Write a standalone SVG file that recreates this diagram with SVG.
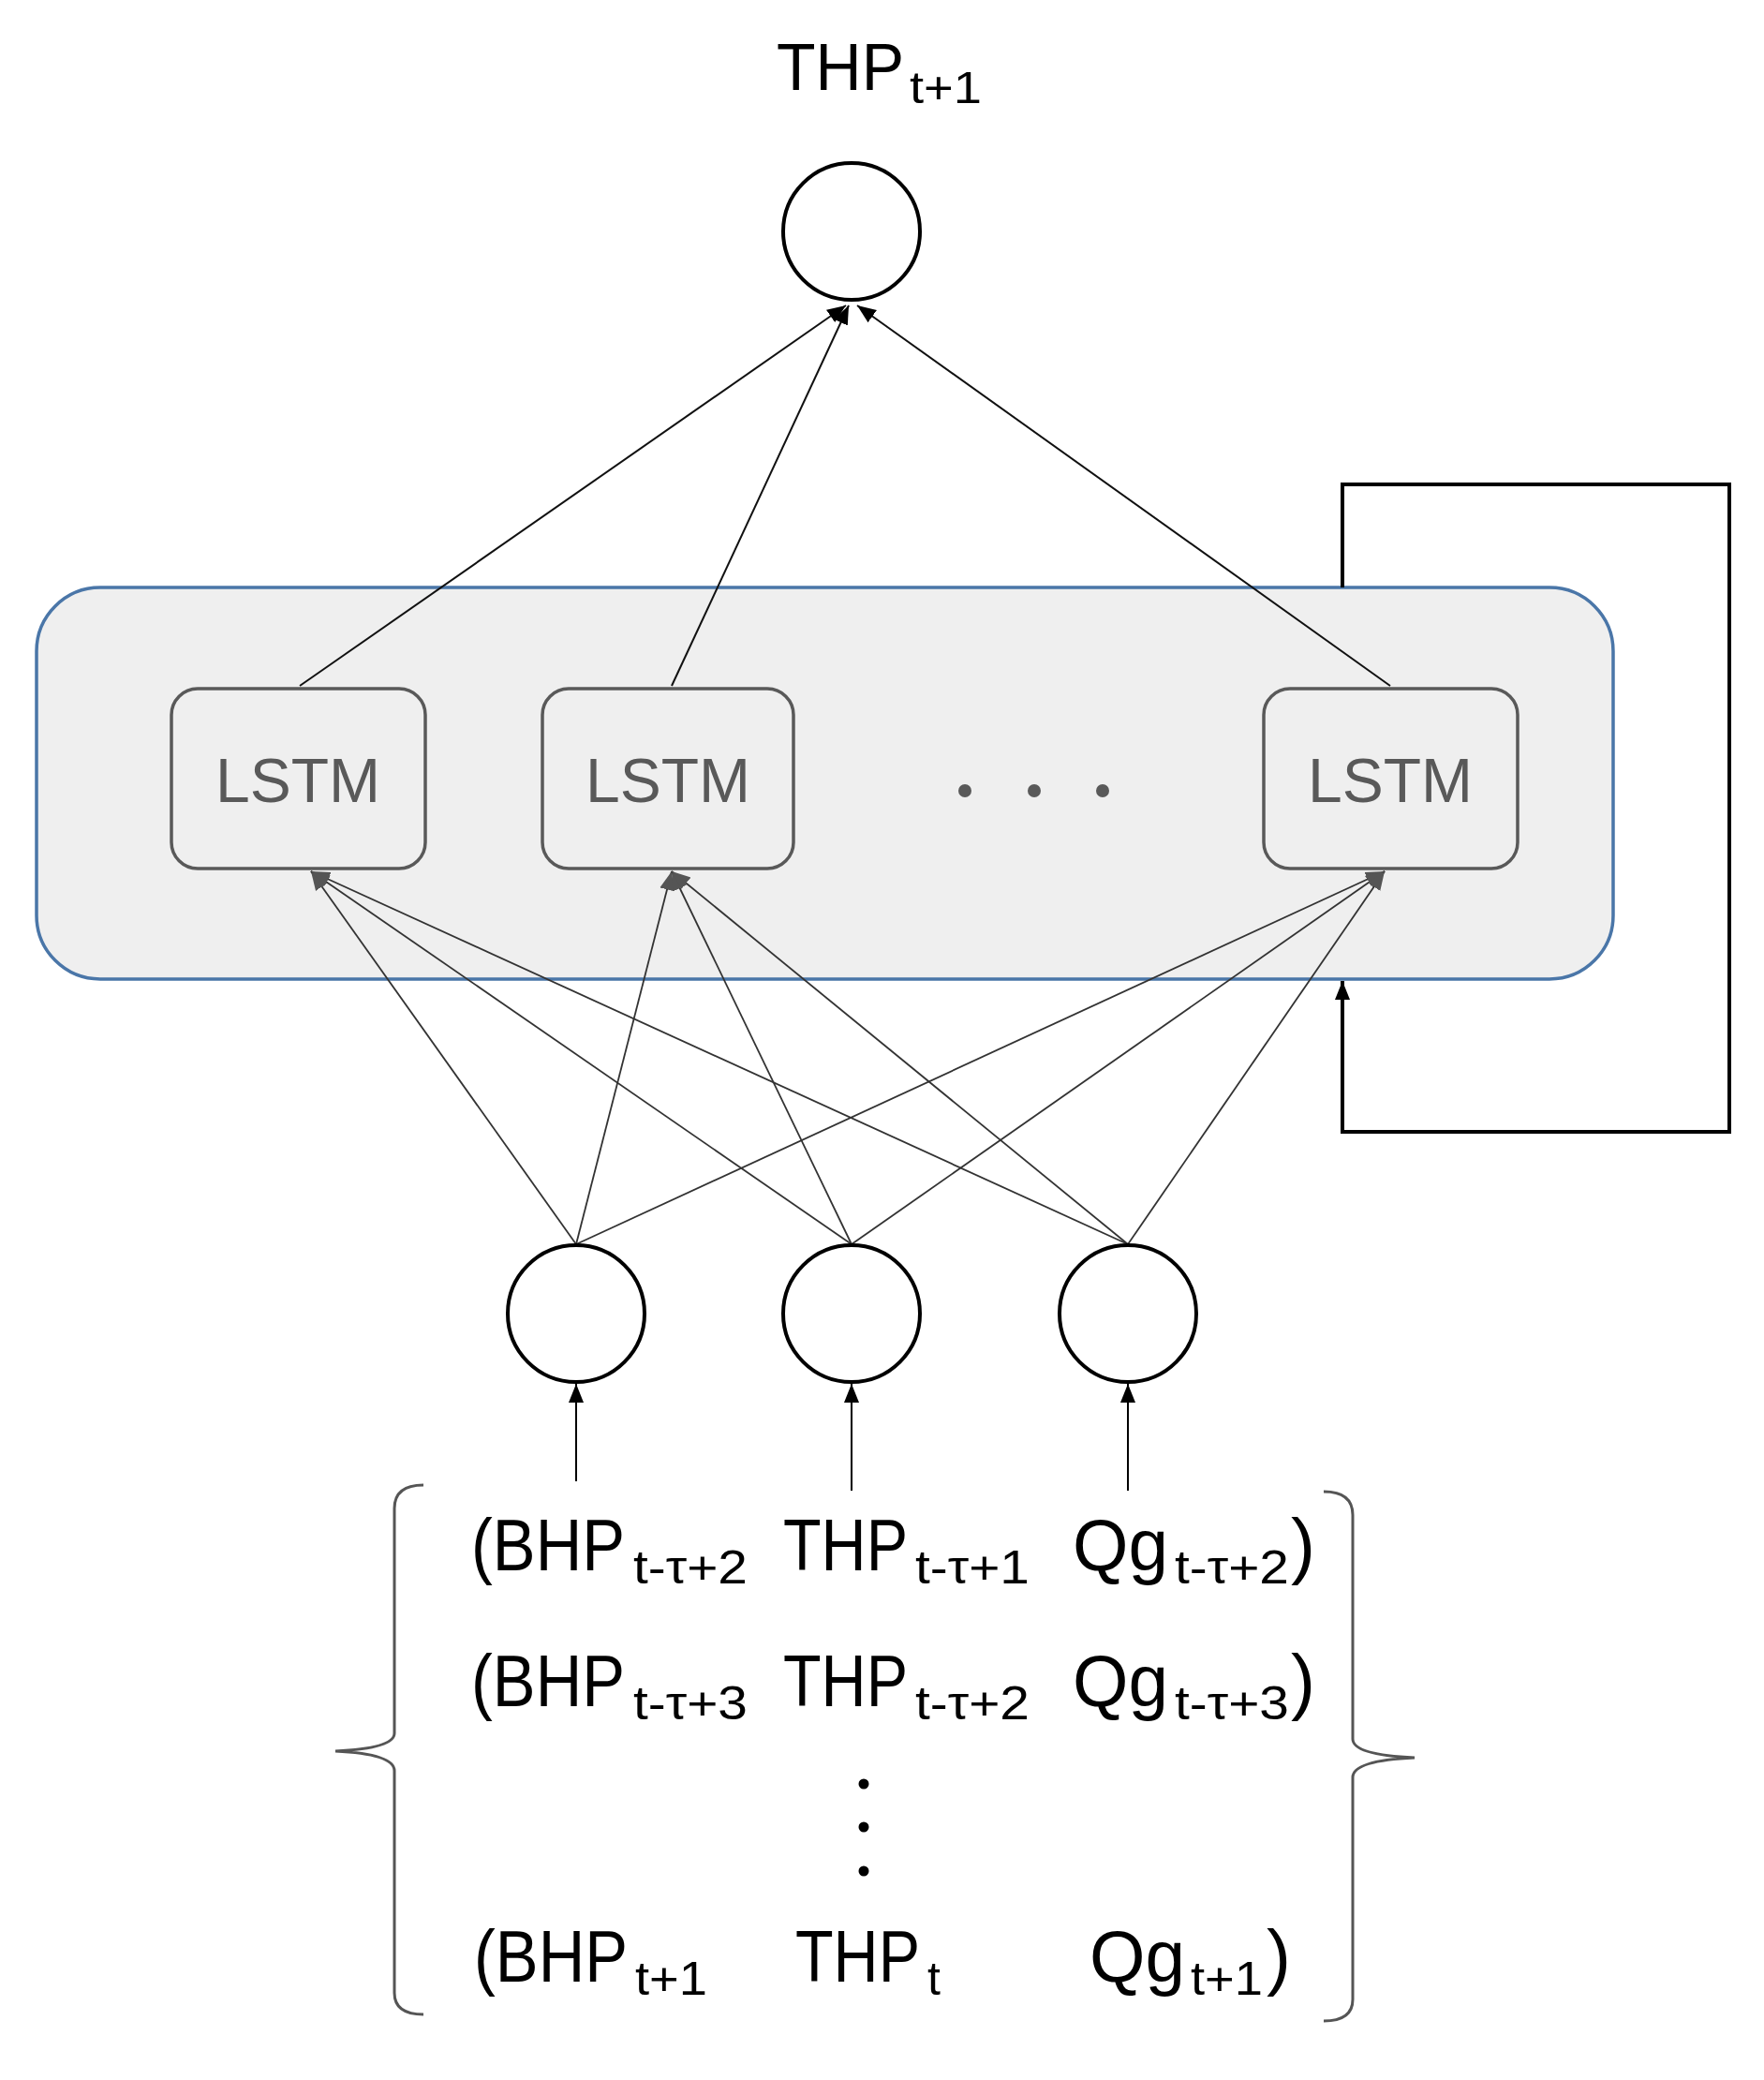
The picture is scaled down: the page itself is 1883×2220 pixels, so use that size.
<svg xmlns="http://www.w3.org/2000/svg" width="1883" height="2220" viewBox="0 0 1883 2220">
<defs>
<marker id="ahg" viewBox="0 0 10 10" refX="10" refY="5" markerWidth="20" markerHeight="20" markerUnits="userSpaceOnUse" orient="auto"><path d="M0,1 L10,5 L0,9 z" fill="#555"/></marker>
<marker id="ahb" viewBox="0 0 10 10" refX="10" refY="5" markerWidth="20" markerHeight="20" markerUnits="userSpaceOnUse" orient="auto"><path d="M0,1 L10,5 L0,9 z" fill="#000"/></marker>
</defs>
<style>
.t{font-family:"Liberation Sans",Arial,sans-serif;fill:#000}
.m{font-size:78px}
.s{font-size:50px}
.node{fill:#fff;stroke:#000;stroke-width:4}
.lstm{fill:#efefef;stroke:#595959;stroke-width:3.5}
.lt{font-family:"Liberation Sans",Arial,sans-serif;font-size:66px;fill:#595959}
.e{stroke:#333;stroke-width:1.8;fill:none;marker-end:url(#ahg)}
.eb{stroke:#111;stroke-width:2;fill:none;marker-end:url(#ahb)}
.br{fill:none;stroke:#555;stroke-width:3}
</style>
<rect width="1883" height="2220" fill="#fff"/>
<g id="layer"><rect x="39" y="627" width="1683" height="418" rx="68" fill="#efefef" stroke="#4a76a8" stroke-width="3.5"/></g>
<g id="connectors">
<line class="eb" x1="320" y1="732" x2="903" y2="326"/>
<line class="eb" x1="717" y1="732" x2="906" y2="326"/>
<line class="eb" x1="1484" y1="732" x2="915" y2="326"/>
<g>
<line class="e" x1="615" y1="1328" x2="332" y2="930"/>
<line class="e" x1="615" y1="1328" x2="717" y2="930"/>
<line class="e" x1="615" y1="1328" x2="1478" y2="930"/>
<line class="e" x1="909" y1="1328" x2="332" y2="930"/>
<line class="e" x1="909" y1="1328" x2="717" y2="930"/>
<line class="e" x1="909" y1="1328" x2="1478" y2="930"/>
<line class="e" x1="1204" y1="1328" x2="332" y2="930"/>
<line class="e" x1="1204" y1="1328" x2="717" y2="930"/>
<line class="e" x1="1204" y1="1328" x2="1478" y2="930"/>
</g>
<line x1="615" y1="1581" x2="615" y2="1477" stroke="#000" stroke-width="2" marker-end="url(#ahb)"/>
<line x1="909" y1="1591" x2="909" y2="1477" stroke="#000" stroke-width="2" marker-end="url(#ahb)"/>
<line x1="1204" y1="1591" x2="1204" y2="1477" stroke="#000" stroke-width="2" marker-end="url(#ahb)"/>
<path d="M1433,627 V517 H1846 V1208 H1433 V1047" fill="none" stroke="#000" stroke-width="4" marker-end="url(#ahb)"/>
</g>
<g id="out"><circle class="node" cx="909" cy="247" r="73"/>
<text class="t" x="829" y="96" font-size="70" textLength="136" lengthAdjust="spacingAndGlyphs">THP</text>
<text class="t" x="971" y="110" font-size="48" textLength="77" lengthAdjust="spacingAndGlyphs">t+1</text></g>
<g id="lstm1"><rect class="lstm" x="183" y="735" width="271" height="192" rx="28"/><text class="lt" x="318" y="856" text-anchor="middle">LSTM</text></g>
<g id="lstm2"><rect class="lstm" x="579" y="735" width="268" height="192" rx="28"/><text class="lt" x="713" y="856" text-anchor="middle">LSTM</text></g>
<g id="lstm3"><rect class="lstm" x="1349" y="735" width="271" height="192" rx="28"/><text class="lt" x="1484" y="856" text-anchor="middle">LSTM</text></g>
<g id="dots" fill="#595959"><circle cx="1030" cy="844" r="7"/><circle cx="1104" cy="844" r="7"/><circle cx="1177" cy="844" r="7"/></g>
<g id="in1"><circle class="node" cx="615" cy="1402" r="73"/></g>
<g id="in2"><circle class="node" cx="909" cy="1402" r="73"/></g>
<g id="in3"><circle class="node" cx="1204" cy="1402" r="73"/></g>
<g id="matrix">
<path class="br" d="M452,1585 Q421,1585 421,1610 V1850 Q421,1866 358,1869 Q421,1872 421,1890 V2127 Q421,2150 452,2150"/>
<path class="br" d="M1413,1592 Q1444,1592 1444,1617 V1856 Q1444,1873 1510,1876 Q1444,1879 1444,1897 V2134 Q1444,2157 1413,2157"/>
<g class="t">
<text class="m" x="503" y="1676" textLength="164" lengthAdjust="spacingAndGlyphs">(BHP</text>
<text class="s" x="676" y="1690" textLength="122" lengthAdjust="spacingAndGlyphs">t-τ+2</text>
<text class="m" x="836" y="1676" textLength="133" lengthAdjust="spacingAndGlyphs">THP</text>
<text class="s" x="977" y="1690" textLength="122" lengthAdjust="spacingAndGlyphs">t-τ+1</text>
<text class="m" x="1145" y="1676" textLength="102" lengthAdjust="spacingAndGlyphs">Qg</text>
<text class="s" x="1254" y="1690" textLength="122" lengthAdjust="spacingAndGlyphs">t-τ+2</text>
<text class="m" x="1378" y="1676">)</text>
<text class="m" x="503" y="1821" textLength="164" lengthAdjust="spacingAndGlyphs">(BHP</text>
<text class="s" x="676" y="1835" textLength="122" lengthAdjust="spacingAndGlyphs">t-τ+3</text>
<text class="m" x="836" y="1821" textLength="133" lengthAdjust="spacingAndGlyphs">THP</text>
<text class="s" x="977" y="1835" textLength="122" lengthAdjust="spacingAndGlyphs">t-τ+2</text>
<text class="m" x="1145" y="1821" textLength="102" lengthAdjust="spacingAndGlyphs">Qg</text>
<text class="s" x="1254" y="1835" textLength="122" lengthAdjust="spacingAndGlyphs">t-τ+3</text>
<text class="m" x="1378" y="1821">)</text>
<text class="m" x="506" y="2115" textLength="164" lengthAdjust="spacingAndGlyphs">(BHP</text>
<text class="s" x="678" y="2129" textLength="77" lengthAdjust="spacingAndGlyphs">t+1</text>
<text class="m" x="849" y="2115" textLength="133" lengthAdjust="spacingAndGlyphs">THP</text>
<text class="s" x="990" y="2129">t</text>
<text class="m" x="1163" y="2115" textLength="102" lengthAdjust="spacingAndGlyphs">Qg</text>
<text class="s" x="1271" y="2129" textLength="77" lengthAdjust="spacingAndGlyphs">t+1</text>
<text class="m" x="1352" y="2115">)</text>
</g>
<g fill="#000"><circle cx="922" cy="1904" r="5.5"/><circle cx="922" cy="1950" r="5.5"/><circle cx="922" cy="1997" r="5.5"/></g>
</g>
</svg>
